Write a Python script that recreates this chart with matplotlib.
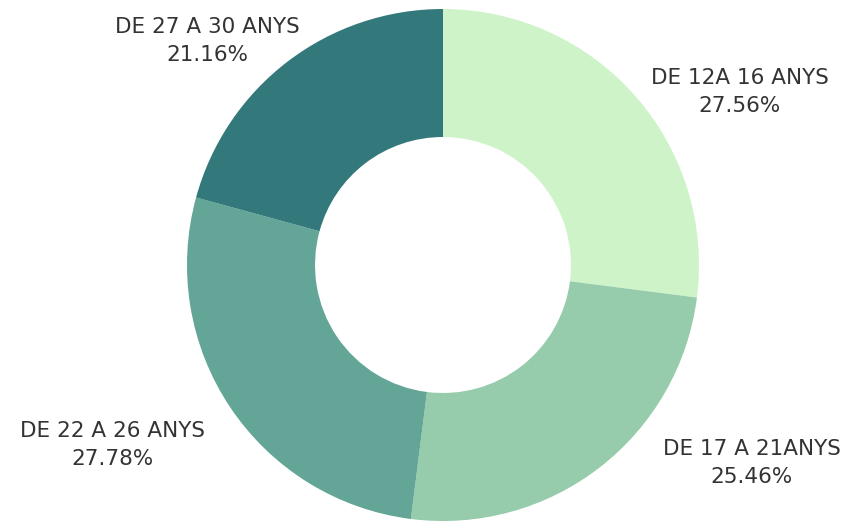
import matplotlib

matplotlib.use("Agg")
import matplotlib.pyplot as plt

labels = ["DE 12A 16 ANYS", "DE 17 A 21ANYS", "DE 22 A 26 ANYS", "DE 27 A 30 ANYS"]
values = [27.56, 25.46, 27.78, 21.16]
colors = ["#cff3c9", "#96cbab", "#63a596", "#33797b"]
# label anchor (px from top-left, centre of two-line block)
label_pos = [(740, 92), (752, 463), (113, 445), (207, 41)]

W, H = 853, 521
fig = plt.figure(figsize=(W / 100, H / 100), dpi=100)
ax = fig.add_axes([0, 0, 1, 1])

cx, cy, r = 443, 265, 256
ax.pie(values, colors=colors, startangle=90, counterclock=False,
       center=(cx, H - cy), radius=r,
       wedgeprops=dict(width=r * 0.5, edgecolor="none"))
ax.set_xlim(0, W)
ax.set_ylim(0, H)
ax.set_aspect("equal")
ax.axis("off")

for lab, v, (x, y) in zip(labels, values, label_pos):
    ax.text(x, H - y, f"{lab}\n{v:.2f}%", ha="center", va="center",
            fontsize=15.5, family=["DejaVu Sans"], color="#333333",
            linespacing=1.45)

fig.savefig("out.png", dpi=100)
